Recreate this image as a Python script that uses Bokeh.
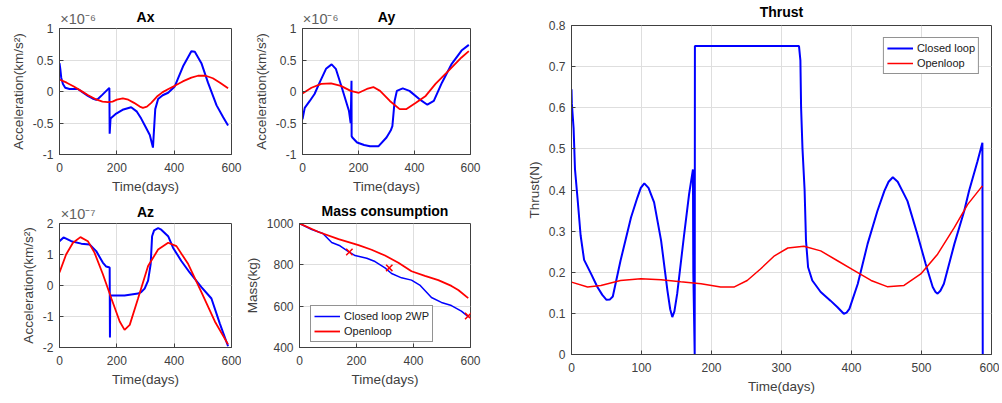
from bokeh.plotting import figure
from bokeh.models import Range1d, FixedTicker, LinearAxis, Legend, LegendItem
from bokeh.layouts import row, column
from bokeh.embed import file_html
from bokeh.resources import INLINE

# ---------------- data ----------------
# Ax (x1e-6 km/s^2)
ax_cl_t = [0, 3, 6, 12, 20, 35, 50, 64, 80, 99, 115, 128, 134, 150, 172, 174, 175, 178, 198, 220, 250, 270, 285, 300, 315, 326, 334, 344, 360, 379, 402, 431, 460, 472, 495, 518, 548, 571, 588]
ax_cl_v = [0.45, 0.35, 0.22, 0.12, 0.06, 0.04, 0.04, 0.04, -0.01, -0.07, -0.11, -0.13, -0.12, -0.05, 0.05, 0.05, -0.67, -0.43, -0.35, -0.29, -0.25, -0.32, -0.43, -0.56, -0.69, -0.89, -0.28, -0.12, -0.06, -0.02, 0.08, 0.4, 0.64, 0.63, 0.45, 0.14, -0.22, -0.41, -0.54]
ax_ol_t = [0, 25, 50, 75, 100, 125, 150, 169, 185, 200, 221, 240, 260, 280, 291, 305, 320, 340, 360, 380, 402, 430, 460, 483, 510, 535, 560, 588]
ax_ol_v = [0.19, 0.14, 0.08, 0.01, -0.06, -0.12, -0.16, -0.17, -0.16, -0.13, -0.11, -0.13, -0.18, -0.24, -0.26, -0.24, -0.18, -0.08, -0.01, 0.04, 0.09, 0.16, 0.22, 0.25, 0.25, 0.21, 0.14, 0.05]

# Ay (x1e-6 km/s^2)
ay_cl_t = [0, 8, 26, 43, 61, 84, 104, 119, 142, 166, 172, 175, 175.5, 178, 195, 220, 241, 271, 300, 315, 321, 325, 329, 337, 358, 382, 417, 446, 469, 498, 533, 568, 594]
ay_cl_v = [-0.44, -0.26, -0.15, -0.04, 0.14, 0.36, 0.43, 0.36, 0.04, -0.31, -0.5, 0.17, -0.71, -0.73, -0.81, -0.85, -0.87, -0.87, -0.73, -0.62, -0.55, -0.35, -0.15, 0.01, 0.05, 0.01, -0.12, -0.21, -0.15, 0.14, 0.44, 0.65, 0.74]
ay_ol_t = [0, 32, 67, 102, 137, 172, 201, 230, 253, 277, 312, 347, 370, 405, 440, 475, 522, 568, 594]
ay_ol_v = [-0.03, 0.06, 0.12, 0.13, 0.09, 0.01, -0.02, 0.04, 0.07, 0.01, -0.15, -0.28, -0.28, -0.18, -0.07, 0.12, 0.33, 0.54, 0.64]

# Az (x1e-7 km/s^2)
az_cl_t = [0, 14, 41, 76, 105, 128, 151, 163, 175, 176, 177, 200, 227, 274, 285, 297, 309, 318, 323, 330, 344, 355, 379, 396, 425, 454, 495, 530, 559, 588]
az_cl_v = [1.43, 1.55, 1.43, 1.35, 1.32, 1.11, 0.74, 0.61, 0.58, -1.68, -0.32, -0.32, -0.32, -0.26, -0.21, -0.1, 0.16, 0.69, 1.59, 1.78, 1.85, 1.8, 1.59, 1.22, 0.79, 0.42, -0.05, -0.42, -1.22, -1.96]
az_ol_t = [0, 23, 47, 73, 99, 122, 151, 181, 210, 227, 245, 274, 309, 344, 379, 408, 449, 495, 542, 588]
az_ol_v = [0.42, 1.0, 1.38, 1.56, 1.43, 1.06, 0.37, -0.42, -1.16, -1.43, -1.27, -0.42, 0.63, 1.16, 1.38, 1.27, 0.69, -0.21, -1.16, -1.9]

# Mass (kg)
m_cl_t = [0, 43, 82, 113, 142, 172, 195, 236, 265, 300, 323, 358, 393, 422, 463, 498, 533, 568, 594]
m_cl_v = [1000, 971, 952, 908, 892, 864, 845, 832, 816, 785, 758, 737, 726, 702, 642, 618, 603, 576, 547]
m_ol_t = [0, 67, 137, 207, 253, 300, 347, 393, 440, 487, 533, 557, 592]
m_ol_v = [1000, 959, 924, 895, 873, 845, 810, 769, 747, 726, 698, 678, 639]
wp_t = [175, 315, 592]
wp_m = [862, 785, 552]

# Thrust (N)
th_cl_t = [0, 0.5, 3, 5, 8.6, 13, 18, 28, 37, 44, 50, 55, 59, 70, 85, 94, 99, 104, 110, 118, 128, 137, 141, 144, 147, 151, 161, 168, 173.5, 174, 176, 176.3,
           325, 327, 328, 330, 333, 335, 338, 344, 356, 370, 380, 389, 393, 397, 409, 423, 437, 447, 453, 459, 466, 475, 480, 494, 506, 516, 520, 523, 527, 532, 547, 561, 568, 580, 587, 587.5]
th_cl_v = [0.645, 0.61, 0.55, 0.45, 0.38, 0.29, 0.23, 0.196, 0.164, 0.145, 0.133, 0.134, 0.141, 0.228, 0.333, 0.381, 0.405, 0.416, 0.405, 0.37, 0.277, 0.156, 0.11, 0.091, 0.105, 0.148, 0.293, 0.39, 0.45, 0.2, 0.0, 0.75,
           0.75, 0.715, 0.6, 0.5, 0.4, 0.277, 0.212, 0.18, 0.152, 0.131, 0.115, 0.099, 0.102, 0.111, 0.172, 0.269, 0.349, 0.398, 0.42, 0.431, 0.42, 0.39, 0.373, 0.293, 0.22, 0.164, 0.152, 0.148, 0.155, 0.172, 0.269, 0.349, 0.398, 0.47, 0.515, 0.0]
th_ol_t = [0, 23, 42, 70, 99, 128, 156, 185, 213, 232, 251, 270, 290, 309, 332, 356, 380, 404, 428, 451, 475, 499, 523, 547, 566, 587]
th_ol_v = [0.176, 0.164, 0.168, 0.18, 0.184, 0.182, 0.177, 0.172, 0.164, 0.164, 0.18, 0.208, 0.24, 0.259, 0.263, 0.252, 0.228, 0.204, 0.18, 0.165, 0.168, 0.196, 0.244, 0.309, 0.365, 0.41]

x_ticks_small = [0, 200, 400, 600]
x_ticks_thrust = [0, 100, 200, 300, 400, 500, 600]
acc_ticks = [-1, -0.5, 0, 0.5, 1]
az_ticks = [-2, -1, 0, 1, 2]
mass_ticks = [400, 600, 800, 1000]
thrust_ticks = [0, 0.1, 0.2, 0.3, 0.4, 0.5, 0.6, 0.7, 0.8]

# ---------------- style ----------------
FONT = "Liberation Sans"
TXT = "#404040"
GRID = "#dedede"
BLUE = "#0000ff"
RED = "#ff0000"


def lab(v):
    return "%g" % v


def make_fig(width, height, ml, mr, mt, mb, xr, yr, xt, yt, xlab, ylab, title, exponent=None, title_standoff=4):
    p = figure(width=width, height=height, output_backend="svg", toolbar_location=None,
               x_range=Range1d(*xr), y_range=Range1d(*yr),
               min_border_left=ml, min_border_right=mr, min_border_top=mt, min_border_bottom=mb)
    p.background_fill_color = "white"
    p.border_fill_color = "white"
    p.outline_line_color = TXT
    p.outline_line_width = 1
    p.xaxis.ticker = FixedTicker(ticks=xt)
    p.yaxis.ticker = FixedTicker(ticks=yt)
    p.xaxis.major_label_overrides = {t: lab(t) for t in xt}
    p.yaxis.major_label_overrides = {t: lab(t) for t in yt}
    for a in p.xaxis + p.yaxis:
        a.axis_line_color = TXT
        a.major_tick_line_color = TXT
        a.major_tick_in = 4
        a.major_tick_out = 0
        a.minor_tick_line_color = None
        a.major_label_text_font = FONT
        a.major_label_text_font_size = "12px"
        a.major_label_text_color = TXT
        a.axis_label_text_font = FONT
        a.axis_label_text_font_size = "13.5px"
        a.axis_label_text_font_style = "normal"
        a.axis_label_text_color = TXT
        a.axis_label_standoff = 4
    p.xaxis.major_label_standoff = 8
    p.yaxis.major_label_standoff = 6
    p.xaxis.axis_label = xlab
    p.yaxis.axis_label = ylab
    p.xgrid.grid_line_color = GRID
    p.ygrid.grid_line_color = GRID
    # top axis: carries the exponent (as its tick label) and the title (as its axis label)
    if exponent is not None:
        ex_pos = (xr[1] - xr[0]) * 0.108
        ticker = FixedTicker(ticks=[ex_pos])
        overrides = {ex_pos: exponent}
        stand = -17
    else:
        ticker = FixedTicker(ticks=[])
        overrides = {}
        stand = title_standoff
    ta = LinearAxis(ticker=ticker, major_label_overrides=overrides,
                    major_label_standoff=2, major_tick_in=0, major_tick_out=0,
                    minor_tick_line_color=None, axis_line_color=None,
                    major_tick_line_color=None,
                    major_label_text_font=FONT, major_label_text_font_size="14.5px",
                    major_label_text_color="#606060",
                    axis_label=title, axis_label_standoff=stand,
                    axis_label_text_font=FONT, axis_label_text_font_size="14px",
                    axis_label_text_font_style="bold", axis_label_text_color="black")
    p.add_layout(ta, "above")
    return p


ACC = "Acceleration(km/s\u00b2)"
TD = "Time(days)"
E6 = "\u00d710\u207b\u2076"
E7 = "\u00d710\u207b\u2077"

f_ax = make_fig(250, 199, 59, 19, 28, 45, (0, 600), (-1, 1), x_ticks_small, acc_ticks, TD, ACC, "Ax", E6)
f_ax.line(ax_cl_t, ax_cl_v, line_color=BLUE, line_width=2)
f_ax.line(ax_ol_t, ax_ol_v, line_color=RED, line_width=1.8)

f_ay = make_fig(273, 199, 48, 53, 28, 45, (0, 600), (-1, 1), x_ticks_small, acc_ticks, TD, ACC, "Ay", E6)
f_ay.line(ay_cl_t, ay_cl_v, line_color=BLUE, line_width=2)
f_ay.line(ay_ol_t, ay_ol_v, line_color=RED, line_width=1.8)

f_az = make_fig(241, 202, 59, 10, 22, 54, (0, 600), (-2, 2), x_ticks_small, az_ticks, TD, ACC, "Az", E7)
f_az.line(az_cl_t, az_cl_v, line_color=BLUE, line_width=2)
f_az.line(az_ol_t, az_ol_v, line_color=RED, line_width=1.8)

f_m = make_fig(282, 202, 56, 53, 22, 54, (0, 600), (400, 1000), x_ticks_small, mass_ticks, TD, "Mass(kg)",
               "Mass consumption", title_standoff=5)
r_mc = f_m.line(m_cl_t, m_cl_v, line_color=BLUE, line_width=1.5)
r_mo = f_m.line(m_ol_t, m_ol_v, line_color=RED, line_width=1.8)
f_m.scatter(wp_t, wp_m, marker="x", size=9, line_color=RED, line_width=1.5)
leg_m = Legend(items=[LegendItem(label="Closed loop 2WP", renderers=[r_mc]),
                      LegendItem(label="Openloop", renderers=[r_mo])],
               location=(11, 5))
f_m.add_layout(leg_m)

f_th = make_fig(476, 401, 48, 8, 24, 47, (0, 600), (0, 0.8), x_ticks_thrust, thrust_ticks, TD, "Thrust(N)",
                "Thrust", title_standoff=6)
r_tc = f_th.line(th_cl_t, th_cl_v, line_color=BLUE, line_width=2)
r_to = f_th.line(th_ol_t, th_ol_v, line_color=RED, line_width=1.5)
leg_t = Legend(items=[LegendItem(label="Closed loop", renderers=[r_tc]),
                      LegendItem(label="Openloop", renderers=[r_to])],
               location="top_right")
f_th.add_layout(leg_t)

for lg in (leg_m, leg_t):
    lg.label_text_font = FONT
    lg.label_text_font_size = "11px"
    lg.label_text_color = "#202020"
    lg.glyph_width = 26
    lg.glyph_height = 14
    lg.label_height = 14
    lg.spacing = 1
    lg.padding = 3
    lg.margin = 12
    lg.label_standoff = 4
    lg.border_line_color = "#262626"
    lg.border_line_width = 1
    lg.background_fill_alpha = 1

layout = row(column(row(f_ax, f_ay), row(f_az, f_m)), f_th)

open("out.html", "w").write(file_html(layout, INLINE))
